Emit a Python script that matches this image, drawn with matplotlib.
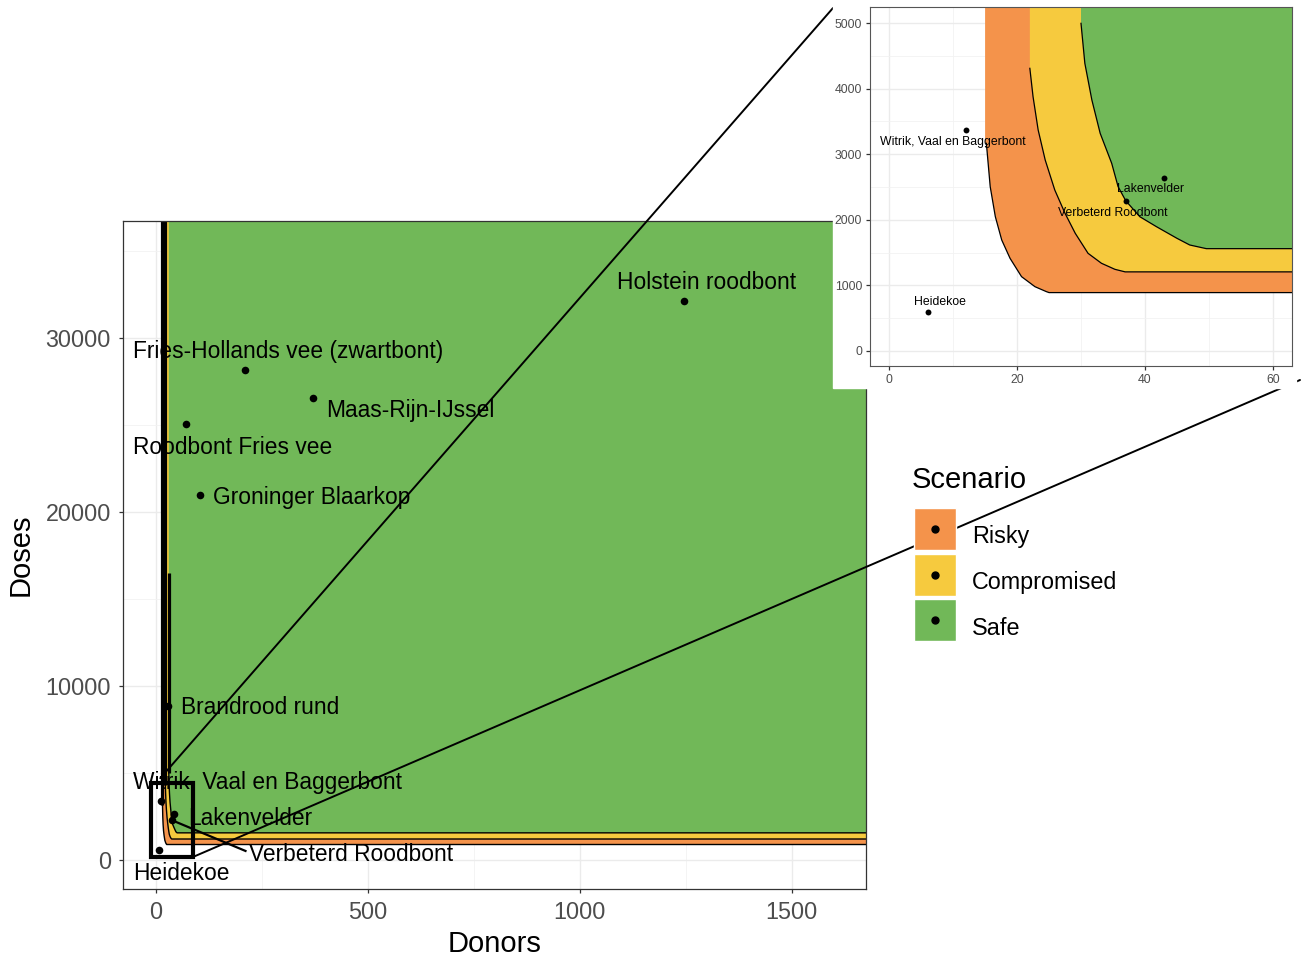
import matplotlib
matplotlib.use("Agg")
import matplotlib.pyplot as plt
from matplotlib.patches import Rectangle, ConnectionPatch
from matplotlib.lines import Line2D

plt.rcParams['font.family'] = ['Liberation Sans', 'DejaVu Sans']

# scenario boundaries (donors, doses) - regions lie above/right of each curve
scenarios = ['Risky', 'Compromised', 'Safe']
colors = ['#F4934B', '#F6CA3E', '#71B858']

risky_x = [15.0, 15.2, 15.8, 16.6, 17.6, 18.9, 20.7, 22.8, 24.6, 25.0]
risky_y = [3166, 3166, 2505, 2048, 1692, 1413, 1133, 980, 904, 890]
comp_x = [22.0, 22.0, 22.5, 23.3, 24.4, 25.9, 27.5, 29.1, 31.1, 33.2, 35.3, 36.9]
comp_y = [4309, 4309, 3877, 3369, 2912, 2454, 2099, 1794, 1489, 1337, 1245, 1206]
safe_x = [30.0, 30.0, 30.6, 31.7, 33.0, 34.8, 35.8, 37.0, 39.2, 41.8, 45.0, 47.0, 49.6]
safe_y = [4995, 4995, 4386, 3826, 3318, 2861, 2505, 2290, 2047, 1895, 1718, 1616, 1560]

# where the boundary line starts in the overview panel
main_line_top = [40000, 40000, 16500]

breeds = ['Holstein roodbont', 'Fries-Hollands vee (zwartbont)', 'Maas-Rijn-IJssel',
          'Roodbont Fries vee', 'Groninger Blaarkop', 'Brandrood rund',
          'Witrik, Vaal en Baggerbont', 'Lakenvelder', 'Verbeterd Roodbont', 'Heidekoe']
donors = [1245, 210, 370, 71, 104, 28, 12, 43, 37, 6]
doses = [32100, 28150, 26550, 25050, 20950, 8850, 3370, 2640, 2290, 595]

# label anchors in the overview panel
main_lab_x = [1300, -54, 401, -54, 134, 59, -54, 75, 219, -54]
main_lab_y = [33200, 29230, 25840, 23710, 20840, 8770, 4460, 2390, 320, -770]
main_lab_ha = ['center', 'left', 'left', 'left', 'left', 'left', 'left', 'left', 'left', 'left']

# breeds shown in the zoomed panel, with label anchors
inset_breeds = ['Witrik, Vaal en Baggerbont', 'Lakenvelder', 'Verbeterd Roodbont', 'Heidekoe']
inset_lab_x = [10.0, 40.9, 35.0, 8.0]
inset_lab_y = [3186, 2470, 2104, 747]

XMAX, YMAX = 5000, 60000
W, H = 1307, 957


def region_polygon(bx, by):
    xs = [bx[0]] + list(bx) + [XMAX, XMAX]
    ys = [YMAX] + list(by) + [by[-1], YMAX]
    return xs, ys


def draw_regions(ax, lw_curve, lw_vert, line_tops):
    bounds = [(risky_x, risky_y), (comp_x, comp_y), (safe_x, safe_y)]
    for (bx, by), c in zip(bounds, colors):
        px, py = region_polygon(bx, by)
        ax.fill(px, py, color=c, lw=0, zorder=1)
    for (bx, by), top in zip(bounds, line_tops):
        if top is not None:
            ax.plot([bx[0], bx[0]], [top, by[0]], color='black', lw=lw_vert,
                    zorder=2, solid_capstyle='butt')
        ax.plot(list(bx[1:]) + [XMAX], list(by[1:]) + [by[-1]], color='black',
                lw=lw_curve, zorder=2)


def style_axes(ax, xt, xminor, yt, yminor, lab_size, pad):
    ax.set_facecolor('white')
    ax.set_xticks(xt)
    ax.set_yticks(yt)
    ax.set_xticks(xminor, minor=True)
    ax.set_yticks(yminor, minor=True)
    ax.grid(True, which='major', color='#EBEBEB', lw=1.0, zorder=0)
    ax.grid(True, which='minor', color='#F2F2F2', lw=0.6, zorder=0)
    ax.set_axisbelow(True)
    ax.tick_params(which='minor', length=0)
    ax.tick_params(which='major', length=3.2, width=0.9, color='#333333',
                   labelcolor='#4D4D4D', labelsize=lab_size, pad=pad)
    for s in ax.spines.values():
        s.set_color('#333333')
        s.set_linewidth(0.9)
        s.set_zorder(5)


fig = plt.figure(figsize=(W / 100, H / 100), dpi=100)

# overview panel
ax = fig.add_axes([123 / W, 1 - 889 / H, 743 / W, 668 / H], zorder=0)
ax.set_xlim(-78, 1675)
ax.set_ylim(-1667, 36724)
style_axes(ax, [0, 500, 1000, 1500], [250, 750, 1250],
           [0, 10000, 20000, 30000], [5000, 15000, 25000, 35000], 16.8, 5.5)
draw_regions(ax, 1.0, 2.3, main_line_top)
ax.scatter(donors, doses, s=30, color='black', zorder=4, lw=0)
for name, lx, ly, ha in zip(breeds, main_lab_x, main_lab_y, main_lab_ha):
    ax.text(lx, ly, name, ha=ha, va='center', fontsize=16.4, color='black', zorder=4)
vi = breeds.index('Verbeterd Roodbont')
ax.plot([donors[vi], main_lab_x[vi] - 8], [doses[vi], main_lab_y[vi] + 200],
        color='black', lw=1.6, zorder=4)
ax.add_patch(Rectangle((-12, 172), 99, 4250, fill=False, ec='black', lw=3.0, zorder=4))
ax.set_xlabel('Donors', fontsize=21, labelpad=4)
ax.set_ylabel('Doses', fontsize=21, labelpad=8)

# connector lines from the box to the zoomed panel
for xa, xb in [((10, 4700), (833 / W, 1 - 8 / H)), ((87, 172), (1300 / W, 1 - 380 / H))]:
    con = ConnectionPatch(xyA=xa, coordsA=ax.transData, xyB=xb, coordsB='figure fraction',
                          color='black', lw=1.4, zorder=0.5)
    fig.add_artist(con)

# white backdrop of the zoomed panel
fig.add_artist(Rectangle((833 / W, 1 - 388 / H), 463 / W, 388 / H,
                         transform=fig.transFigure, color='white', zorder=1))

# zoomed panel
axi = fig.add_axes([870 / W, 1 - 366 / H, 422 / W, 359 / H], zorder=2)
axi.set_xlim(-3, 63)
axi.set_ylim(-229, 5244)
style_axes(axi, [0, 20, 40, 60], [10, 30, 50],
           [0, 1000, 2000, 3000, 4000, 5000], [500, 1500, 2500, 3500, 4500], 8.8, 2.5)
for s in axi.spines.values():
    s.set_color('#555555')
    s.set_linewidth(0.8)
draw_regions(axi, 0.9, 0.9, [None, None, None])
for name, lx, ly in zip(inset_breeds, inset_lab_x, inset_lab_y):
    i = breeds.index(name)
    axi.scatter([donors[i]], [doses[i]], s=18, color='black', zorder=4, lw=0)
    axi.text(lx, ly, name, ha='center', va='center', fontsize=8.8, color='black', zorder=4)

# legend: coloured square key with a point on top
fig.text(912 / W, 1 - 480 / H, 'Scenario', ha='left', va='center', fontsize=21)
handles = [(Line2D([], [], marker='s', ls='None', markersize=30, markerfacecolor=c,
                   markeredgecolor='white', markeredgewidth=1.0),
            Line2D([], [], marker='o', color='black', ls='None', markersize=5))
           for c in colors]
fig.legend(handles, scenarios, loc='upper left', bbox_to_anchor=(902 / W, 1 - 503 / H),
           frameon=False, fontsize=16.8, handlelength=1.8, handleheight=2.45,
           handletextpad=0.7, labelspacing=0.12, borderpad=0.0)

fig.savefig('out.png', dpi=100, facecolor='white')
